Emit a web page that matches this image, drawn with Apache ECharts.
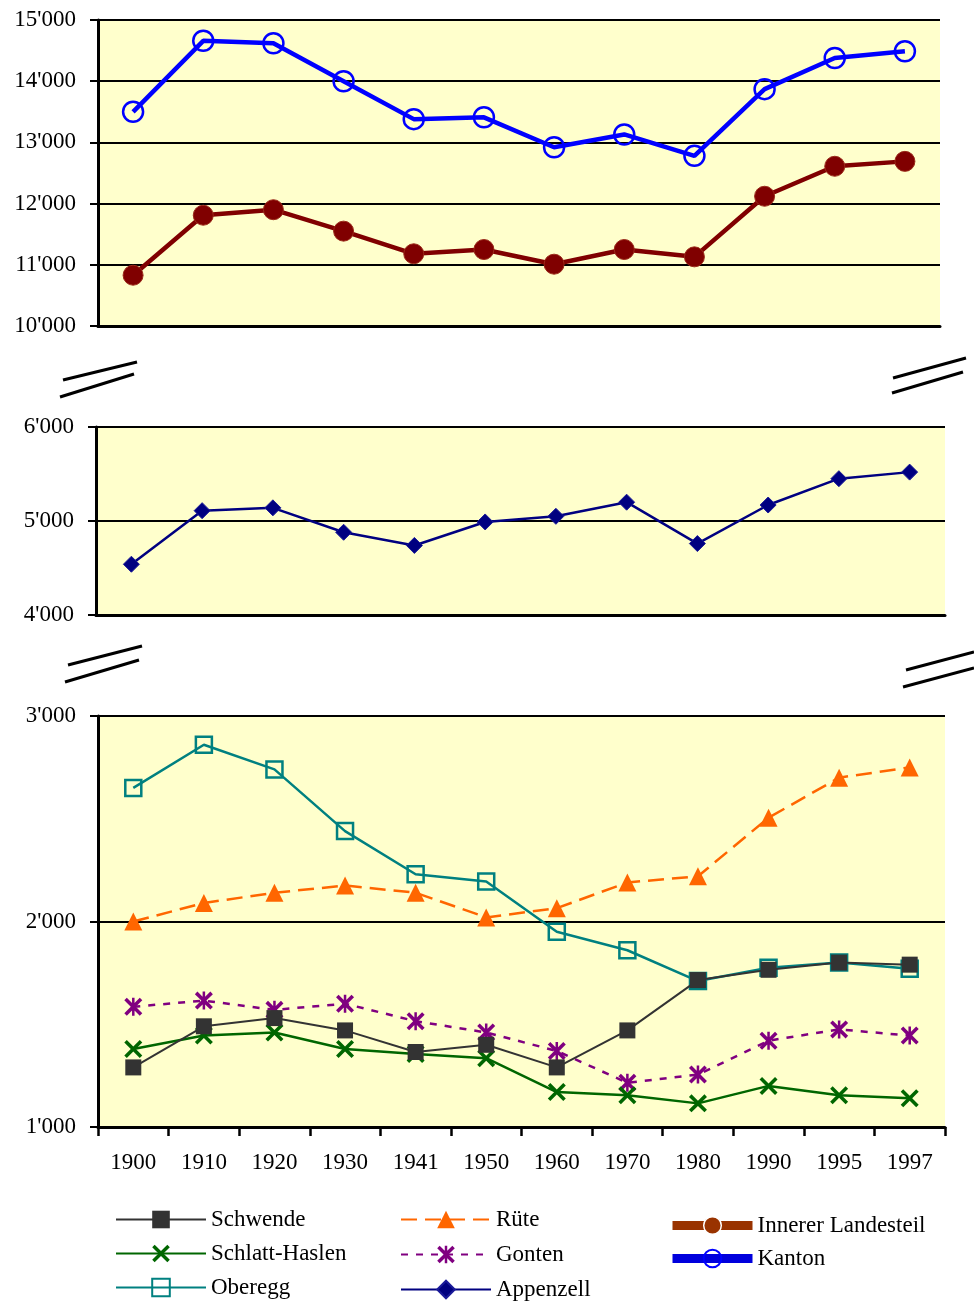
<!DOCTYPE html>
<html>
<head>
<meta charset="utf-8">
<title>Bevölkerung Appenzell Innerrhoden 1900–1997</title>
<script src="https://cdn.jsdelivr.net/npm/echarts@6/dist/echarts.min.js"></script>
<style>
  html, body { margin: 0; padding: 0; background: #fff; }
  #chart { width: 974px; height: 1305px; }
</style>
</head>
<body>
<div id="chart"></div>
<script>
// Census years
const years = ['1900', '1910', '1920', '1930', '1941', '1950', '1960', '1970', '1980', '1990', '1995', '1997'];

// Upper panel: canton and inner district
const kanton            = [13500, 14660, 14620, 14000, 13380, 13410, 12920, 13130, 12780, 13870, 14380, 14490];
const innererLandesteil = [10830, 11810, 11900, 11550, 11180, 11250, 11010, 11250, 11130, 12120, 12610, 12690];

// Middle panel: Appenzell
const appenzell = [4540, 5110, 5140, 4880, 4740, 4990, 5050, 5200, 4760, 5170, 5450, 5520];

// Lower panel: smaller districts
const oberegg       = [2650, 2860, 2740, 2440, 2230, 2195, 1950, 1860, 1710, 1775, 1800, 1770];
const schwende      = [1290, 1490, 1530, 1470, 1365, 1400, 1290, 1470, 1715, 1765, 1800, 1790];
const ruete         = [2000, 2090, 2140, 2175, 2140, 2020, 2065, 2190, 2220, 2505, 2700, 2750];
const gonten        = [1585, 1615, 1570, 1600, 1515, 1460, 1370, 1215, 1255, 1420, 1475, 1445];
const schlattHaslen = [1380, 1445, 1460, 1380, 1355, 1335, 1170, 1155, 1115, 1200, 1155, 1140];

// Value ranges of the three axis segments
const topRange = [10000, 15000];
const midRange = [4000, 6000];
const lowRange = [1000, 3000];
const tickStep = 1000;

const serif = '"Liberation Serif", "DejaVu Serif", serif';
const fmt = v => String(v).replace(/\B(?=(\d{3})+(?!\d))/g, "'");

// Marker shapes
const xShape = 'path://M0,1.4L1.4,0L5,3.6L8.6,0L10,1.4L6.4,5L10,8.6L8.6,10L5,6.4L1.4,10L0,8.6L3.6,5Z';
const starShape = 'path://M0,1.4L1.4,0L5,3.6L8.6,0L10,1.4L6.4,5L10,8.6L8.6,10L5,6.4L1.4,10L0,8.6L3.6,5Z' +
                  'M4.3,0L5.7,0L5.7,10L4.3,10Z';

function yAxis(gridIndex, range) {
  return {
    type: 'value', gridIndex, min: range[0], max: range[1], interval: tickStep,
    axisLine: { show: true, lineStyle: { color: '#000', width: 3 } },
    axisTick: { show: true, length: 8, lineStyle: { color: '#000', width: 2 } },
    axisLabel: { margin: 22, color: '#000', fontFamily: serif, fontSize: 23, formatter: fmt },
    splitLine: { show: true, lineStyle: { color: '#000', width: 2 } }
  };
}

function xAxis(gridIndex, withLabels) {
  return {
    type: 'category', gridIndex, data: years, boundaryGap: true,
    axisLine: { show: true, onZero: false, lineStyle: { color: '#000', width: 3 } },
    axisTick: { show: withLabels, length: 9, interval: 0, lineStyle: { color: '#000', width: 2.5 } },
    axisLabel: { show: withLabels, interval: 0, margin: 24, color: '#000', fontFamily: serif, fontSize: 23 },
    splitLine: { show: false }
  };
}

const panelBg = { show: true, backgroundColor: '#FFFFCC', borderWidth: 0 };

function breakMark(x1, y1, x2, y2) {
  return { type: 'line', shape: { x1, y1, x2, y2 }, style: { stroke: '#000', lineWidth: 3 } };
}

const legendText = { color: '#000', fontFamily: serif, fontSize: 23 };
const legendBase = { orient: 'vertical', padding: 0, height: 200, itemHeight: 22, textStyle: legendText, selectedMode: false };

const option = {
  animation: false,
  backgroundColor: '#fff',
  grid: [
    Object.assign({ left: 98, top: 20, width: 842, height: 306 }, panelBg),
    Object.assign({ left: 96, top: 427, width: 849, height: 188 }, panelBg),
    Object.assign({ left: 98, top: 716, width: 847, height: 411 }, panelBg)
  ],
  xAxis: [xAxis(0, false), xAxis(1, false), xAxis(2, true)],
  yAxis: [yAxis(0, topRange), yAxis(1, midRange), yAxis(2, lowRange)],
  legend: [
    Object.assign({}, legendBase, {
      left: 115, top: 1208, itemWidth: 90, itemGap: 11,
      data: ['Schwende', 'Schlatt-Haslen', 'Oberegg']
    }),
    Object.assign({}, legendBase, {
      left: 400, top: 1208, itemWidth: 90, itemGap: 12,
      data: ['Rüte', 'Gonten', 'Appenzell']
    }),
    Object.assign({}, legendBase, {
      left: 668, top: 1214, itemWidth: 80, itemGap: 10,
      data: [
        { name: 'Innerer Landesteil', lineStyle: { width: 9, color: '#993300' }, itemStyle: { color: '#993300', borderColor: '#fff', borderWidth: 1.5 } },
        { name: 'Kanton', lineStyle: { width: 9, color: '#0000DD' } }
      ]
    })
  ],
  graphic: [
    breakMark(63, 380, 137, 362), breakMark(60, 397, 134, 374),
    breakMark(893, 378, 966, 358), breakMark(892, 393, 963, 372),
    breakMark(68, 665, 142, 646), breakMark(65, 682, 139, 660),
    breakMark(906, 670, 974, 652), breakMark(903, 687, 974, 668)
  ],
  series: [
    {
      name: 'Kanton', type: 'line', xAxisIndex: 0, yAxisIndex: 0, data: kanton,
      symbol: 'circle', symbolSize: 20, z: 3,
      lineStyle: { color: '#0000FF', width: 4.5 },
      itemStyle: { color: 'rgba(0,0,0,0)', borderColor: '#0000FF', borderWidth: 2.5 }
    },
    {
      name: 'Innerer Landesteil', type: 'line', xAxisIndex: 0, yAxisIndex: 0, data: innererLandesteil,
      symbol: 'circle', symbolSize: 20, z: 3,
      lineStyle: { color: '#800000', width: 4.5 },
      itemStyle: { color: '#800000', borderColor: '#9a2a1a', borderWidth: 1 }
    },
    {
      name: 'Appenzell', type: 'line', xAxisIndex: 1, yAxisIndex: 1, data: appenzell,
      symbol: 'diamond', symbolSize: 16, z: 3,
      lineStyle: { color: '#000080', width: 2.5 },
      itemStyle: { color: '#000080', borderColor: '#1a1a99', borderWidth: 1 }
    },
    {
      name: 'Oberegg', type: 'line', xAxisIndex: 2, yAxisIndex: 2, data: oberegg,
      symbol: 'rect', symbolSize: 16, z: 3,
      lineStyle: { color: '#008080', width: 2.5 },
      itemStyle: { color: 'rgba(0,0,0,0)', borderColor: '#008080', borderWidth: 2.5 }
    },
    {
      name: 'Schwende', type: 'line', xAxisIndex: 2, yAxisIndex: 2, data: schwende,
      symbol: 'rect', symbolSize: 16, z: 4,
      lineStyle: { color: '#333333', width: 2 },
      itemStyle: { color: '#333333' }
    },
    {
      name: 'Rüte', type: 'line', xAxisIndex: 2, yAxisIndex: 2, data: ruete,
      symbol: 'triangle', symbolSize: 18, z: 3,
      lineStyle: { color: '#FF6600', width: 2.5, type: [16, 8] },
      itemStyle: { color: '#FF6600' }
    },
    {
      name: 'Gonten', type: 'line', xAxisIndex: 2, yAxisIndex: 2, data: gonten,
      symbol: starShape, symbolSize: 18, z: 3,
      lineStyle: { color: '#800080', width: 2.5, type: [7, 8] },
      itemStyle: { color: '#800080' }
    },
    {
      name: 'Schlatt-Haslen', type: 'line', xAxisIndex: 2, yAxisIndex: 2, data: schlattHaslen,
      symbol: xShape, symbolSize: 18, z: 3,
      lineStyle: { color: '#006600', width: 2.5 },
      itemStyle: { color: '#006600' }
    }
  ]
};

const chart = echarts.init(document.getElementById('chart'), null, { renderer: 'canvas' });
chart.setOption(option);
</script>
</body>
</html>
